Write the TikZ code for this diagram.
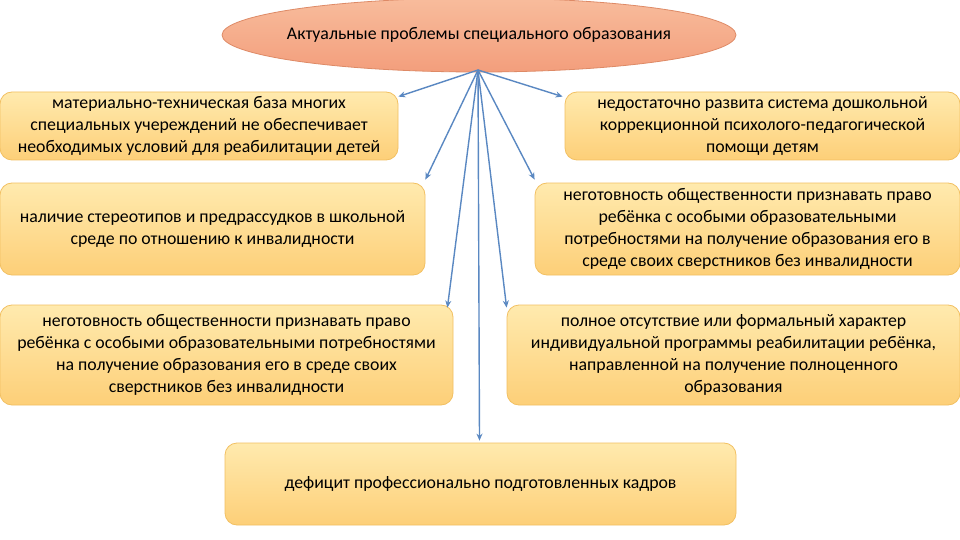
\documentclass[tikz,border=0pt]{standalone}
\usepackage{fontspec}
\setmainfont{Carlito}
\usetikzlibrary{shapes.geometric,arrows.meta,calc,shadows}
\definecolor{boxtop}{HTML}{FFEAAE}
\definecolor{boxbot}{HTML}{FDCF78}
\definecolor{boxline}{HTML}{F2C062}
\definecolor{elltop}{HTML}{F8BC9C}
\definecolor{ellbot}{HTML}{F39E7C}
\definecolor{ellline}{HTML}{DE8A66}
\definecolor{arr}{HTML}{5A88C2}
\tikzset{
  probbox/.style={draw=boxline, line width=0.8pt, rounded corners=12pt,
    top color=boxtop, bottom color=boxbot, align=center,
    font=\fontsize{17.8}{22}\selectfont, inner sep=2pt},
  headtext/.style={align=center, font=\fontsize{17.8}{22}\selectfont},
  ellshape/.style={draw=ellline, line width=0.8pt, top color=elltop, bottom color=ellbot},
  link/.style={draw=arr, line width=1.4pt, -{Stealth[length=7pt,width=6pt]}}
}
\begin{document}
\begin{tikzpicture}[x=1pt,y=-1pt]
\useasboundingbox (0,0) rectangle (960,540);
\fill[white] (0,0) rectangle (960,540);
\path[ellshape] (479,35) ellipse [x radius=257pt, y radius=37pt];
\node[headtext] (head) at (479,35) {Актуальные проблемы специального образования};
\coordinate (o) at (478,70);
\node[probbox, minimum width=398pt, minimum height=68pt] (b1) at (199,126)
  {материально-техническая база многих\\специальных учереждений не обеспечивает\\необходимых условий для реабилитации детей};
\node[probbox, minimum width=395pt, minimum height=68pt] (b2) at (762.5,126)
  {недостаточно развита система дошкольной\\коррекционной психолого-педагогической\\помощи детям};
\node[probbox, minimum width=425pt, minimum height=92pt] (b3) at (212.5,229)
  {наличие стереотипов и предрассудков в школьной\\среде по отношению к инвалидности};
\node[probbox, minimum width=425pt, minimum height=92pt] (b4) at (747.5,229)
  {неготовность общественности признавать право\\ребёнка с особыми образовательными\\потребностями на получение образования его в\\среде своих сверстников без инвалидности};
\node[probbox, minimum width=453pt, minimum height=100pt] (b5) at (226.5,355)
  {неготовность общественности признавать право\\ребёнка с особыми образовательными потребностями\\на получение образования его в среде своих\\сверстников без инвалидности};
\node[probbox, minimum width=453pt, minimum height=100pt] (b6) at (733.5,355)
  {полное отсутствие или формальный характер\\индивидуальной программы реабилитации ребёнка,\\направленной на получение полноценного\\образования};
\node[probbox, minimum width=511pt, minimum height=82pt] (b7) at (480.5,484)
  {дефицит профессионально подготовленных кадров};
\draw[link] (o) -- ($(b1.north east)+(0,5)$);
\draw[link] (o) -- ($(b2.north west)+(-2,5)$);
\draw[link] (o) -- ($(b3.north east)+(0,-3)$);
\draw[link] (o) -- ($(b4.north west)+(0,-3)$);
\draw[link] (o) -- ($(b5.north east)+(-6,3)$);
\draw[link] (o) -- ($(b6.north west)+(0,3)$);
\draw[link] (o) -- ($(b7.north)+(-1,-2)$);
\end{tikzpicture}
\end{document}
